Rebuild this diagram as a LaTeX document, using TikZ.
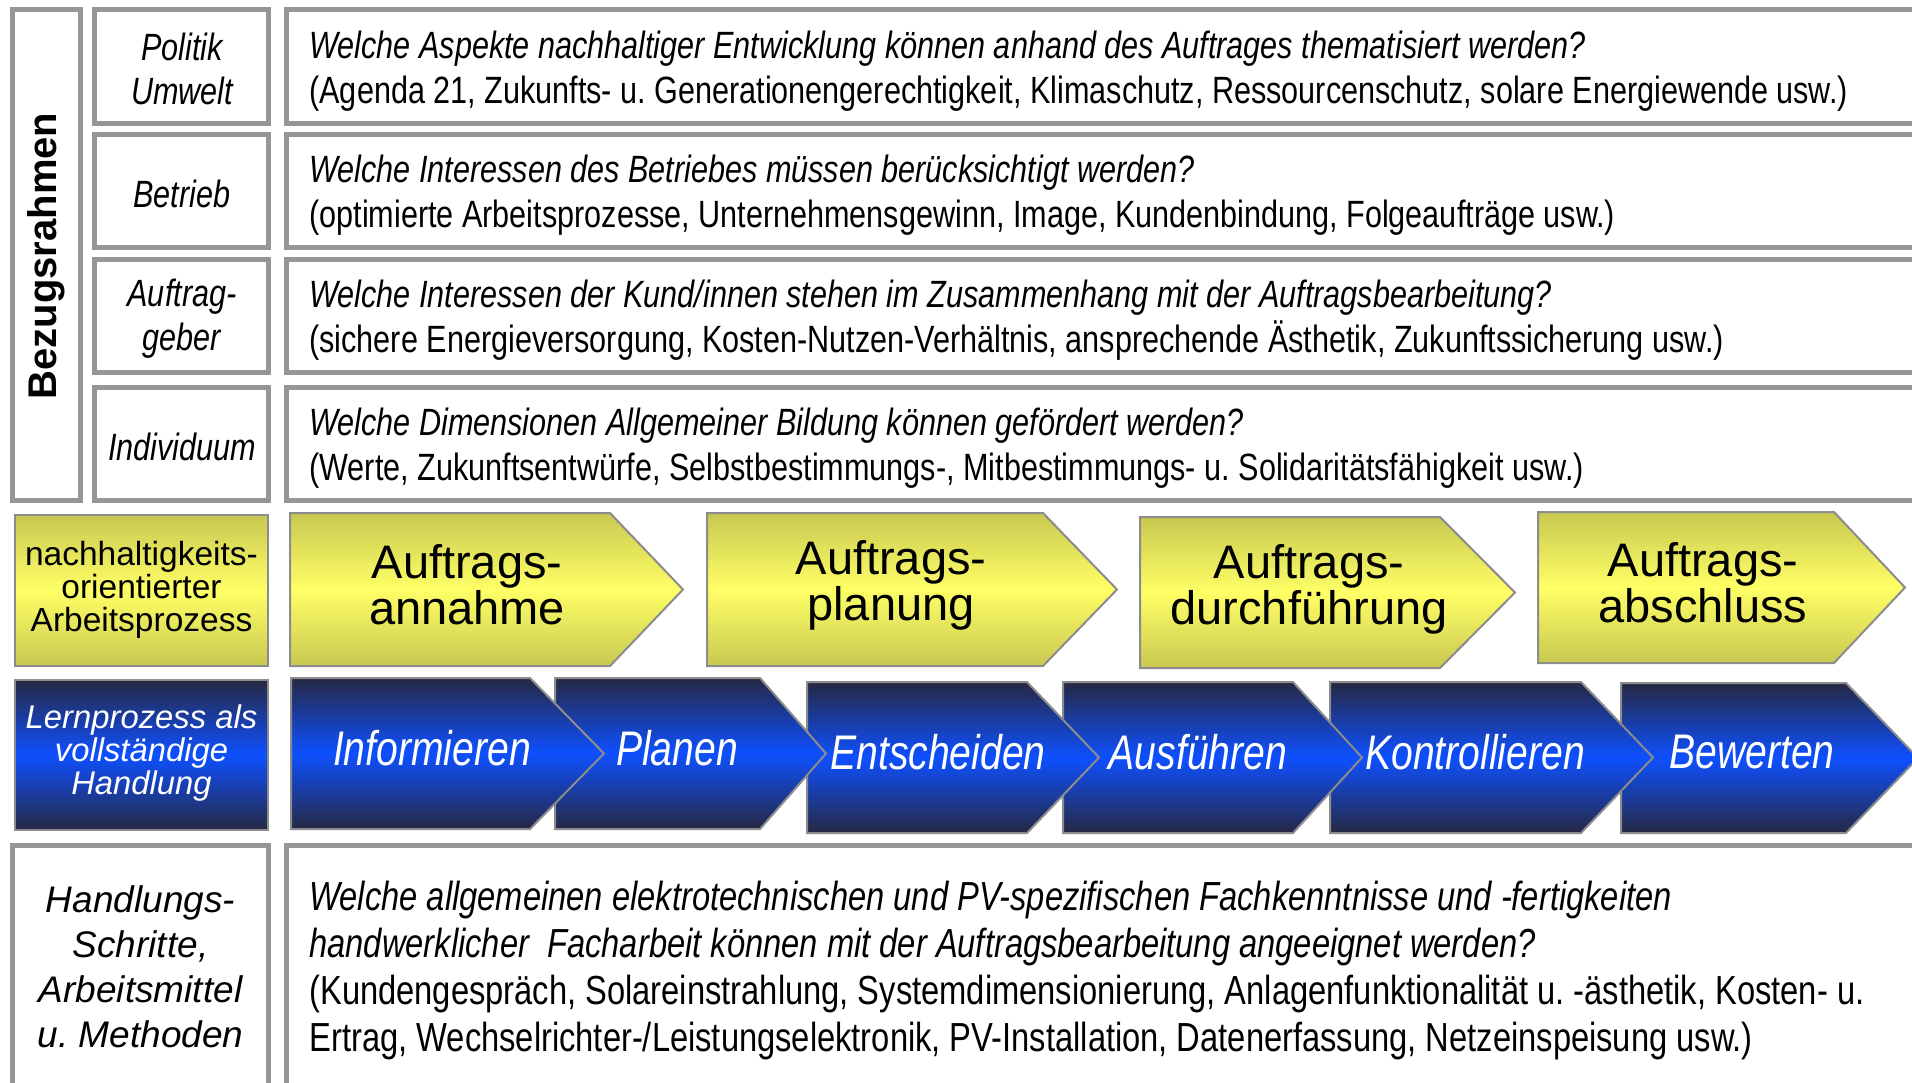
\documentclass[tikz,border=0pt]{standalone}
\usepackage{fontspec}
\setmainfont{Liberation Sans}
\newfontfamily\narrowfont[FakeStretch=0.805]{Liberation Sans}
\frenchspacing
\definecolor{framegray}{RGB}{150,150,150}
\definecolor{edgegray}{RGB}{140,140,140}
\definecolor{olive}{RGB}{200,200,82}
\definecolor{lightyellow}{RGB}{255,255,102}
\definecolor{navy}{RGB}{38,40,66}
\definecolor{brightblue}{RGB}{14,80,255}

\begin{document}
\begin{tikzpicture}[x=0.5pt,y=-0.5pt,line join=miter,
  frame/.style={draw=framegray,line width=2.5pt},
  yellowbox/.style={draw=edgegray,line width=1pt,top color=olive,bottom color=olive,middle color=lightyellow},
  bluebox/.style={draw=edgegray,line width=1pt,top color=navy,bottom color=navy,middle color=brightblue},
  sidetext/.style={align=center,inner sep=0pt,font=\narrowfont\itshape\fontsize{19}{22}\selectfont},
  rowtext/.style={anchor=west,align=left,inner sep=0pt,font=\narrowfont\fontsize{19}{22.5}\selectfont},
  phasetext/.style={align=center,inner sep=0pt,font=\fontsize{23.5}{18.5}\selectfont},
  steptext/.style={text=white,inner sep=0pt,font=\narrowfont\itshape\fontsize{24.3}{26}\selectfont}]
\fill[white] (0,0) rectangle (1912,1082);
\useasboundingbox (0,0) rectangle (1912,1082);
% Bezugsrahmen
\draw[frame] (12.5,9.5) rectangle (80.5,500.5);
\node[rotate=90,font=\bfseries\fontsize{20}{20}\selectfont] (rahmen) at (46.5,256) {Bezugsrahmen};
\draw[frame] (94.5,9.5) rectangle (268.5,123.5);
\draw[frame] (94.5,134.5) rectangle (268.5,247.5);
\draw[frame] (94.5,259.5) rectangle (268.5,372.5);
\draw[frame] (94.5,387.5) rectangle (268.5,500.5);
\draw[frame] (286.5,9.5) rectangle (1930,123.5);
\draw[frame] (286.5,134.5) rectangle (1930,247.5);
\draw[frame] (286.5,259.5) rectangle (1930,372.5);
\draw[frame] (286.5,387.5) rectangle (1930,500.5);
\node[sidetext] (politik) at (182,69) {Politik\\Umwelt};
\node[sidetext] (betrieb) at (182,194) {Betrieb};
\node[sidetext] (geber) at (182,319) {Auftrag-\\geber};
\node[sidetext] (individuum) at (182,447) {Individuum};
\node[rowtext] (politiktext) at (309,71) {{\itshape Welche Aspekte nachhaltiger Entwicklung können anhand des Auftrages thematisiert werden?}\\(Agenda 21, Zukunfts- u. Generationengerechtigkeit, Klimaschutz, Ressourcenschutz, solare Energiewende usw.)};
\node[rowtext] (betriebtext) at (309,195) {{\itshape Welche Interessen des Betriebes müssen berücksichtigt werden?}\\(optimierte Arbeitsprozesse, Unternehmensgewinn, Image, Kundenbindung, Folgeaufträge usw.)};
\node[rowtext] (gebertext) at (309,320) {{\itshape Welche Interessen der Kund/innen stehen im Zusammenhang mit der Auftragsbearbeitung?}\\(sichere Energieversorgung, Kosten-Nutzen-Verhältnis, ansprechende Ästhetik, Zukunftssicherung usw.)};
\node[rowtext] (individuumtext) at (309,448) {{\itshape Welche Dimensionen Allgemeiner Bildung können gefördert werden?}\\(Werte, Zukunftsentwürfe, Selbstbestimmungs-, Mitbestimmungs- u. Solidaritätsfähigkeit usw.)};
% Arbeitsprozess
\filldraw[yellowbox] (15,515) rectangle (268,666);
\node[align=center,inner sep=0pt,font=\fontsize{16.75}{16.5}\selectfont] (arbeitsprozess) at (141.5,590) {nachhaltigkeits-\\orientierter\\Arbeitsprozess};
\filldraw[yellowbox] (290,513) -- (610,513) -- (683,589.5) -- (610,666) -- (290,666) -- cycle;
\filldraw[yellowbox] (707,513) -- (1043,513) -- (1117,589.5) -- (1043,666) -- (707,666) -- cycle;
\filldraw[yellowbox] (1140,517) -- (1440,517) -- (1515,592.5) -- (1440,668) -- (1140,668) -- cycle;
\filldraw[yellowbox] (1538,512) -- (1834,512) -- (1905,587.5) -- (1834,663) -- (1538,663) -- cycle;
\node[phasetext] (annahme) at (467,585) {Auftrags-\\annahme};
\node[phasetext] (planung) at (891,585) {Auftrags-\\planung};
\node[phasetext] (durchfuehrung) at (1309,589) {Auftrags-\\durchführung};
\node[phasetext] (abschluss) at (1703,583) {Auftrags-\\abschluss};
% Lernprozess
\filldraw[bluebox] (15,680) rectangle (268,830);
\node[align=center,text=white,inner sep=0pt,font=\itshape\fontsize{16.4}{16.5}\selectfont] (lernprozess) at (141.5,753) {Lernprozess als\\vollständige\\Handlung};
\filldraw[bluebox] (1621,683) -- (1846,683) -- (1918,758) -- (1846,833) -- (1621,833) -- cycle;
\filldraw[bluebox] (1330,682) -- (1581,682) -- (1653,757.5) -- (1581,833) -- (1330,833) -- cycle;
\filldraw[bluebox] (1063,682) -- (1293,682) -- (1362,757.5) -- (1293,833) -- (1063,833) -- cycle;
\filldraw[bluebox] (807,682) -- (1027,682) -- (1099,757.5) -- (1027,833) -- (807,833) -- cycle;
\filldraw[bluebox] (555,678) -- (760,678) -- (826,753.5) -- (760,829) -- (555,829) -- cycle;
\filldraw[bluebox] (291,678) -- (530,678) -- (604,753.5) -- (530,829) -- (291,829) -- cycle;
\node[steptext] (informieren) at (432,748) {Informieren};
\node[steptext] (planen) at (677,748) {Planen};
\node[steptext] (entscheiden) at (938,752) {Entscheiden};
\node[steptext] (ausfuehren) at (1198,752) {Ausführen};
\node[steptext] (kontrollieren) at (1475,752) {Kontrollieren};
\node[steptext] (bewerten) at (1752,752) {Bewerten};
% Handlungsschritte
\draw[frame] (12.5,845.5) rectangle (268.5,1095);
\draw[frame] (286.5,845.5) rectangle (1930,1095);
\node[align=center,inner sep=0pt,font=\itshape\fontsize{18.5}{22.5}\selectfont] (methoden) at (140.5,967) {Handlungs-\\Schritte,\\Arbeitsmittel\\u. Methoden};
\node[rowtext,font=\narrowfont\fontsize{20.3}{23.5}\selectfont] (methodentext) at (309,970) {{\itshape Welche allgemeinen elektrotechnischen und PV-spezifischen Fachkenntnisse und -fertigkeiten}\\{\itshape handwerklicher\ \ Facharbeit können mit der Auftragsbearbeitung angeeignet werden?}\\(Kundengespräch, Solareinstrahlung, Systemdimensionierung, Anlagenfunktionalität u. -ästhetik, Kosten- u.\\Ertrag, Wechselrichter-/Leistungselektronik, PV-Installation, Datenerfassung, Netzeinspeisung usw.)};
\end{tikzpicture}
\end{document}
